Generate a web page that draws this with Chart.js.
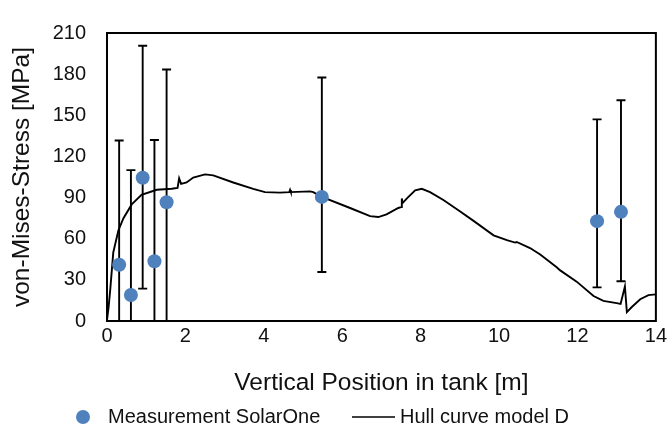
<!DOCTYPE html>
<html>
<head>
<meta charset="utf-8">
<script src="https://cdn.jsdelivr.net/npm/chart.js@4.4.0/dist/chart.umd.min.js"></script>
<style>
  body { margin: 0; background: #fff; }
  canvas { display: block; }
</style>
</head>
<body>
<canvas id="c" width="670" height="445"></canvas>
<script>
// Messpunkte SolarOne (Position [m], Spannung [MPa]) + Fehlerbalken
const measX = [0.31, 0.61, 0.91, 1.21, 1.52, 5.48, 12.5, 13.11]
const measY = [41, 19, 104.5, 43.6, 86.6, 90.5, 72.8, 79.6]
const errHigh = [131.6, 110, 200.7, 132, 183.4, 177.6, 147, 161]
const errLow = [-49, -72, 23.6, -45, -10, 35.7, 24.5, 29]

// Hüllkurve Modell D
const hullX = [0, 0.04, 0.08, 0.16, 0.29, 0.42, 0.63, 0.88, 1.27, 1.65, 1.8, 1.84, 1.89, 2.03, 2.2, 2.5, 2.71,
  3.22, 3.73, 4.03, 4.41, 4.65, 4.67, 4.69, 5.18, 5.26, 5.48, 6.2, 6.71, 6.92, 7.13, 7.43, 7.5, 7.52, 7.54,
  7.65, 7.86, 8.03, 8.24, 8.58, 9.0, 9.35, 9.86, 10.2, 10.41, 10.45, 10.79, 11.05, 11.47, 11.56, 11.98,
  12.41, 12.66, 13.0, 13.1, 13.21, 13.26, 13.38, 13.6, 13.81, 14.0]
const hullY = [0.7, 10, 22, 50, 66, 75, 85, 92, 95.7, 96.4, 97, 104, 100, 101, 104.6, 106.9, 106.2,
  101, 96.4, 94, 93.6, 94, 95.6, 94, 94.5, 94, 90.5, 82.4, 76.5, 75.8, 77.7, 82.4, 83, 89.4, 86,
  89.4, 95.2, 96.4, 94, 88.2, 80, 73, 62.5, 59, 57.2, 57.6, 53.2, 48.5, 39.2, 36.9, 28.7,
  18.2, 14.7, 13, 12.5, 25.2, 6.5, 10, 15.9, 18.9, 19.4]

const xTicks = [0, 2, 4, 6, 8, 10, 12, 14]
const yTicks = [0, 30, 60, 90, 120, 150, 180, 210]

const FONT = "'Liberation Sans', Arial, sans-serif"
const BLUE = '#4F81BD'

// Fehlerbalken unter den Punkten zeichnen
const errorBars = {
  id: 'errorBars',
  beforeDatasetDraw(chart, args) {
    if (args.index !== 0) return
    const { ctx, chartArea: a, scales: { x, y } } = chart
    ctx.save()
    ctx.beginPath()
    ctx.rect(a.left, a.top, a.right - a.left, a.bottom - a.top)
    ctx.clip()
    ctx.strokeStyle = '#000'
    ctx.lineWidth = 1.9
    measX.forEach((mx, i) => {
      const px = x.getPixelForValue(mx)
      const top = y.getPixelForValue(errHigh[i])
      const bot = y.getPixelForValue(errLow[i])
      ctx.beginPath()
      ctx.moveTo(px, top)
      ctx.lineTo(px, bot)
      ctx.moveTo(px - 4.5, top)
      ctx.lineTo(px + 4.5, top)
      ctx.moveTo(px - 4.5, bot)
      ctx.lineTo(px + 4.5, bot)
      ctx.stroke()
    })
    ctx.restore()
  }
}

// Rahmen um die Zeichenfläche + Legende unten
const frameLegend = {
  id: 'frameLegend',
  afterDraw(chart) {
    const { ctx, chartArea: a } = chart
    ctx.save()
    ctx.strokeStyle = '#000'
    ctx.lineWidth = 2
    ctx.strokeRect(a.left, a.top, a.right - a.left, a.bottom - a.top)

    const ly = 417
    ctx.font = '20px ' + FONT
    ctx.textBaseline = 'middle'
    ctx.textAlign = 'left'
    ctx.beginPath()
    ctx.arc(83, ly, 7, 0, Math.PI * 2)
    ctx.fillStyle = BLUE
    ctx.fill()
    ctx.fillStyle = '#111'
    ctx.fillText(chart.data.datasets[0].label, 108, ly)
    ctx.beginPath()
    ctx.lineWidth = 1.6
    ctx.moveTo(352, ly)
    ctx.lineTo(395, ly)
    ctx.stroke()
    ctx.fillText(chart.data.datasets[1].label, 400, ly)
    ctx.restore()
  }
}

new Chart(document.getElementById('c'), {
  type: 'scatter',
  data: {
    datasets: [
      {
        label: 'Measurement SolarOne',
        data: measX.map((v, i) => ({ x: v, y: measY[i] })),
        backgroundColor: BLUE,
        borderColor: BLUE,
        pointRadius: 7,
        pointHoverRadius: 7,
        borderWidth: 0,
      },
      {
        label: 'Hull curve model D',
        type: 'line',
        data: hullX.map((v, i) => ({ x: v, y: hullY[i] })),
        borderColor: '#000',
        borderWidth: 1.9,
        pointRadius: 0,
        tension: 0,
        fill: false,
      },
    ],
  },
  options: {
    responsive: false,
    animation: false,
    layout: { padding: { top: 21, right: 13, bottom: 45, left: 0 } },
    plugins: {
      legend: { display: false },
      tooltip: { enabled: false },
    },
    scales: {
      x: {
        type: 'linear',
        min: 0,
        max: 14,
        afterFit: s => { s.height = 79 },
        afterBuildTicks: s => { s.ticks = xTicks.map(v => ({ value: v })) },
        grid: { display: false, drawTicks: false },
        border: { display: false },
        ticks: { color: '#111', font: { family: FONT, size: 20 }, padding: 3, maxRotation: 0 },
        title: { display: true, text: 'Vertical Position in tank [m]', color: '#111', font: { family: FONT, size: 24.5 }, padding: { top: 0, bottom: 2 } },
      },
      y: {
        min: 0,
        max: 210,
        afterFit: s => { s.width = 107 },
        afterBuildTicks: s => { s.ticks = yTicks.map(v => ({ value: v })) },
        grid: { display: false, drawTicks: false },
        border: { display: false },
        ticks: { color: '#111', font: { family: FONT, size: 20 }, padding: 21 },
        title: { display: true, text: 'von-Mises-Stress [MPa]', color: '#111', font: { family: FONT, size: 24.5 }, padding: { top: 8, bottom: 0 } },
      },
    },
  },
  plugins: [errorBars, frameLegend],
})
</script>
</body>
</html>
